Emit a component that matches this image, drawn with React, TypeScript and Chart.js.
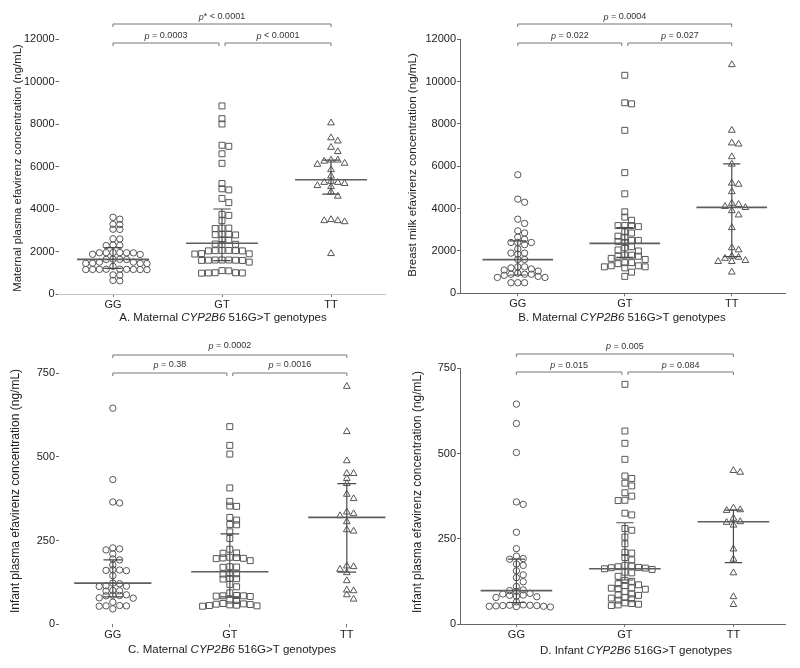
import React, { useEffect, useRef } from 'react';
import { Chart, registerables } from 'chart.js';
Chart.register(...registerables);

const FONT = '"Liberation Sans", Arial, Helvetica, sans-serif';
const GENOTYPES = ['GG', 'GT', 'TT'];
const POINT_STYLES = ['circle', 'rect', 'triangle'];
const POINT_RADII = [3.2, 4.2, 3.9];

// ---------- Panel A: maternal plasma ----------
const A_GG = [3610, 3520, 3280, 3270, 3050, 3040, 2600, 2590, 2300, 2290, 2280, 1950, 1950, 1945, 1940, 1940, 1935, 1870, 1860, 1640, 1630, 1625, 1620, 1500, 1500, 1450, 1440, 1440, 1430, 1300, 1170, 1165, 1160, 1160, 1155, 1155, 1150, 1150, 1145, 900, 890, 640, 620];
const A_GT = [8850, 8250, 8000, 7000, 6950, 6600, 6150, 5200, 4950, 4900, 4500, 4300, 3750, 3700, 3450, 3100, 3100, 3080, 2800, 2800, 2790, 2780, 2550, 2540, 2350, 2340, 2330, 2050, 2050, 2040, 2040, 2030, 2030, 1900, 1890, 1880, 1600, 1600, 1600, 1590, 1590, 1580, 1580, 1500, 1100, 1090, 1000, 1000, 990, 990, 980];
const A_TT = [8050, 7350, 7200, 6900, 6700, 6300, 6300, 6250, 6150, 6100, 5850, 5550, 5300, 5250, 5250, 5200, 5100, 5050, 4800, 4600, 3500, 3450, 3450, 3400, 1900];
const A_MEDIAN = [1630, 2385, 5380];
const A_Q1 = [1210, 1570, 4700];
const A_Q3 = [2180, 4000, 6300];
const A_P = ['p = 0.0003', 'p < 0.0001', 'p* < 0.0001'];
const A_YTICKS = [0, 2000, 4000, 6000, 8000, 10000, 12000];
const A_YTITLE = 'Maternal plasma efavirenz concentration (ng/mL)';
const A_XTITLE = ['A. Maternal ', 'CYP2B6', ' 516G>T genotypes'];

// ---------- Panel B: breast milk ----------
const B_GG = [5600, 4450, 4300, 3500, 3300, 2950, 2850, 2650, 2550, 2400, 2400, 2400, 2300, 2100, 1900, 1900, 1850, 1600, 1600, 1250, 1250, 1200, 1150, 1100, 1050, 950, 900, 900, 900, 850, 800, 750, 750, 500, 500, 500];
const B_GT = [10300, 9000, 8950, 7700, 5700, 4700, 3850, 3600, 3450, 3200, 3200, 3150, 3200, 2900, 2850, 2700, 2650, 2500, 2500, 2450, 2400, 2200, 2150, 2050, 2000, 1800, 1800, 1750, 1750, 1650, 1600, 1450, 1450, 1400, 1300, 1300, 1250, 1250, 1200, 1000, 800];
const B_TT = [10800, 7700, 7100, 7050, 6450, 6100, 5200, 5150, 4800, 4250, 4200, 4100, 4050, 3900, 3700, 3100, 2150, 2050, 1750, 1700, 1650, 1550, 1500, 1500, 1000];
const B_MEDIAN = [1590, 2360, 4060];
const B_Q1 = [865, 1700, 1730];
const B_Q3 = [2480, 3100, 6110];
const B_P = ['p = 0.022', 'p = 0.027', 'p = 0.0004'];
const B_YTICKS = [0, 2000, 4000, 6000, 8000, 10000, 12000];
const B_YTITLE = 'Breast milk efavirenz concentration (ng/mL)';
const B_XTITLE = ['B. Maternal ', 'CYP2B6', ' 516G>T genotypes'];

// ---------- Panel C: infant plasma by maternal genotype ----------
const C_GG = [645, 432, 365, 362, 228, 225, 222, 210, 195, 192, 177, 163, 162, 161, 160, 145, 123, 121, 115, 114, 113, 101, 100, 99, 88, 87, 86, 85, 79, 78, 66, 56, 55, 55, 54, 46];
const C_GT = [590, 534, 508, 407, 367, 353, 352, 319, 311, 298, 297, 276, 256, 224, 213, 212, 200, 199, 198, 197, 196, 190, 172, 171, 170, 152, 151, 150, 137, 136, 135, 119, 112, 94, 86, 85, 85, 84, 83, 72, 71, 62, 61, 60, 59, 58, 57, 56, 55, 54];
const C_TT = [710, 575, 488, 450, 450, 435, 420, 388, 375, 335, 330, 324, 306, 282, 278, 174, 172, 164, 154, 130, 102, 100, 88, 75];
const C_MEDIAN = [123, 157, 319];
const C_Q1 = [82, 82, 156];
const C_Q3 = [192, 270, 420];
const C_P = ['p = 0.38', 'p = 0.0016', 'p = 0.0002'];
const C_YTICKS = [0, 250, 500, 750];
const C_YTITLE = 'Infant plasma efavirenz concentration (ng/mL)';
const C_XTITLE = ['C. Maternal ', 'CYP2B6', ' 516G>T genotypes'];

// ---------- Panel D: infant plasma by infant genotype ----------
const D_GG = [645, 588, 503, 358, 351, 269, 221, 199, 192, 190, 176, 172, 156, 144, 136, 124, 110, 100, 98, 96, 90, 88, 85, 84, 82, 80, 78, 65, 56, 55, 55, 54, 54, 53, 52, 52, 51, 50];
const D_GT = [703, 566, 530, 483, 434, 427, 413, 405, 385, 375, 363, 362, 325, 320, 280, 275, 255, 235, 210, 208, 195, 188, 172, 170, 168, 166, 165, 164, 162, 160, 152, 150, 140, 128, 125, 118, 115, 113, 106, 105, 104, 102, 95, 88, 85, 84, 78, 76, 74, 70, 62, 60, 58, 56, 54];
const D_TT = [450, 445, 340, 335, 333, 310, 300, 298, 290, 220, 190, 150, 80, 57];
const D_MEDIAN = [98, 162, 300];
const D_Q1 = [63, 129, 180];
const D_Q3 = [190, 297, 334];
const D_P = ['p = 0.015', 'p = 0.084', 'p = 0.005'];
const D_YTICKS = [0, 250, 500, 750];
const D_YTITLE = 'Infant plasma efavirenz concentration (ng/mL)';
const D_XTITLE = ['D. Infant ', 'CYP2B6', ' 516G>T genotypes'];

type Panel = {
  id: string;
  left: number; top: number; w: number; h: number;
  area: { l: number; r: number; t: number; b: number };
  xmin: number; xmax: number; ymax: number;
  groups: number[][]; median: number[]; q1: number[]; q3: number[];
  pvals: string[]; yticks: number[]; ytitle: string; xtitle: string[];
  yBorder: boolean; xBorder: boolean; xBorderColor: string;
  yTitlePos: [number, number]; yTitleSize: number; xTitlePos: [number, number];
  br: { top: number; low: number; topText: number; lowText: number };
};

const PANELS: Panel[] = [
  {
    id: 'A', left: 0, top: 0, w: 400, h: 330,
    area: { l: 58.5, r: 385.5, t: 39, b: 294 }, xmin: -0.5, xmax: 2.5, ymax: 12000,
    groups: [A_GG, A_GT, A_TT], median: A_MEDIAN, q1: A_Q1, q3: A_Q3,
    pvals: A_P, yticks: A_YTICKS, ytitle: A_YTITLE, xtitle: A_XTITLE,
    yBorder: false, xBorder: true, xBorderColor: '#c4c4c4',
    yTitlePos: [18, 168], yTitleSize: 11.4, xTitlePos: [223, 318],
    br: { top: 24, low: 43, topText: 17, lowText: 36 },
  },
  {
    id: 'B', left: 400, top: 0, w: 400, h: 330,
    area: { l: 60, r: 385.3, t: 39.3, b: 293.3 }, xmin: -0.54, xmax: 2.5, ymax: 12000,
    groups: [B_GG, B_GT, B_TT], median: B_MEDIAN, q1: B_Q1, q3: B_Q3,
    pvals: B_P, yticks: B_YTICKS, ytitle: B_YTITLE, xtitle: B_XTITLE,
    yBorder: true, xBorder: true, xBorderColor: '#666',
    yTitlePos: [13, 165], yTitleSize: 11.6, xTitlePos: [222, 318],
    br: { top: 24, low: 43, topText: 17, lowText: 36 },
  },
  {
    id: 'C', left: 0, top: 330, w: 400, h: 338,
    area: { l: 59, r: 393.6, t: 43, b: 294.3 }, xmin: -0.46, xmax: 2.4, ymax: 750,
    groups: [C_GG, C_GT, C_TT], median: C_MEDIAN, q1: C_Q1, q3: C_Q3,
    pvals: C_P, yticks: C_YTICKS, ytitle: C_YTITLE, xtitle: C_XTITLE,
    yBorder: false, xBorder: false, xBorderColor: '#888',
    yTitlePos: [16, 161], yTitleSize: 12, xTitlePos: [232, 320],
    br: { top: 25, low: 43, topText: 16, lowText: 35 },
  },
  {
    id: 'D', left: 400, top: 330, w: 400, h: 338,
    area: { l: 60, r: 385.5, t: 38.3, b: 294 }, xmin: -0.52, xmax: 2.48, ymax: 750,
    groups: [D_GG, D_GT, D_TT], median: D_MEDIAN, q1: D_Q1, q3: D_Q3,
    pvals: D_P, yticks: D_YTICKS, ytitle: D_YTITLE, xtitle: D_XTITLE,
    yBorder: true, xBorder: true, xBorderColor: '#666',
    yTitlePos: [18, 162], yTitleSize: 11.9, xTitlePos: [236, 321],
    br: { top: 24, low: 42, topText: 16.5, lowText: 35.5 },
  },
];

const X_AXIS_H = 20;
const SWARM_DX = 6.8;
const SWARM_DY = 4.6;

function drawMixed(ctx: CanvasRenderingContext2D, parts: [string, boolean][], cx: number, cy: number, size: number, color: string) {
  const fonts = parts.map(([, it]) => `${it ? 'italic ' : ''}${size}px ${FONT}`);
  const widths = parts.map(([t], k) => { ctx.font = fonts[k]; return ctx.measureText(t).width; });
  const total = widths.reduce((a, b) => a + b, 0);
  let x = cx - total / 2;
  ctx.fillStyle = color;
  ctx.textAlign = 'left';
  ctx.textBaseline = 'middle';
  parts.forEach(([t], k) => { ctx.font = fonts[k]; ctx.fillText(t, x, cy); x += widths[k]; });
}

function pParts(s: string): [string, boolean][] {
  return s.startsWith('p') ? [['p', true], [s.slice(1), false]] : [[s, false]];
}

function makeOverlay(p: Panel) {
  return {
    id: 'overlay' + p.id,
    afterDatasetsDraw(chart: any) {
      const { ctx } = chart;
      const xs = chart.scales.x, ys = chart.scales.y;
      ctx.save();
      for (let i = 0; i < 3; i++) {
        const cx = xs.getPixelForValue(i);
        const mw = xs.getPixelForValue(i + 0.33) - cx;
        const cw = xs.getPixelForValue(i + 0.08) - cx;
        const ym = ys.getPixelForValue(p.median[i]);
        const y1 = ys.getPixelForValue(p.q1[i]);
        const y3 = ys.getPixelForValue(p.q3[i]);
        ctx.strokeStyle = '#5e5e5e';
        ctx.lineWidth = 1.6;
        ctx.beginPath(); ctx.moveTo(cx - mw, ym); ctx.lineTo(cx + mw, ym); ctx.stroke();
        ctx.lineWidth = 1.2;
        ctx.strokeStyle = '#4a4a4a';
        ctx.beginPath();
        ctx.moveTo(cx, y1); ctx.lineTo(cx, y3);
        ctx.moveTo(cx - cw, y1); ctx.lineTo(cx + cw, y1);
        ctx.moveTo(cx - cw, y3); ctx.lineTo(cx + cw, y3);
        ctx.stroke();
      }
      ctx.restore();
    },
    afterDraw(chart: any) {
      const { ctx } = chart;
      const xs = chart.scales.x;
      const x0 = xs.getPixelForValue(0), x1 = xs.getPixelForValue(1), x2 = xs.getPixelForValue(2);
      ctx.save();
      const bracket = (xa: number, xb: number, y: number, label: string, ty: number) => {
        ctx.strokeStyle = '#777';
        ctx.lineWidth = 1;
        ctx.beginPath();
        ctx.moveTo(xa, y + 3); ctx.lineTo(xa, y); ctx.lineTo(xb, y); ctx.lineTo(xb, y + 3);
        ctx.stroke();
        drawMixed(ctx, pParts(label), (xa + xb) / 2, ty, 9, '#333');
      };
      bracket(x0, x1 - 3, p.br.low, p.pvals[0], p.br.lowText);
      bracket(x1 + 3, x2, p.br.low, p.pvals[1], p.br.lowText);
      bracket(x0, x2, p.br.top, p.pvals[2], p.br.topText);
      // y title
      ctx.save();
      ctx.translate(p.yTitlePos[0], p.yTitlePos[1]);
      ctx.rotate(-Math.PI / 2);
      ctx.font = `${p.yTitleSize}px ${FONT}`;
      ctx.fillStyle = '#222';
      ctx.textAlign = 'center';
      ctx.textBaseline = 'middle';
      ctx.fillText(p.ytitle, 0, 0);
      ctx.restore();
      // x title
      drawMixed(ctx, [[p.xtitle[0], false], [p.xtitle[1], true], [p.xtitle[2], false]], p.xTitlePos[0], p.xTitlePos[1], 11.5, '#222');
      ctx.restore();
    },
  };
}

function swarm(values: number[], center: number, xs: any, ys: any) {
  const placed: { px: number; py: number }[] = [];
  const order = values.map((_, i) => i).sort((a, b) => values[b] - values[a]);
  const out: { x: number; y: number }[] = new Array(values.length);
  const cpx = xs.getPixelForValue(center);
  for (const i of order) {
    const py = ys.getPixelForValue(values[i]);
    let px = cpx;
    for (let step = 0; step < 80; step++) {
      const off = step === 0 ? 0 : (step % 2 ? 1 : -1) * Math.ceil(step / 2) * SWARM_DX;
      px = cpx + off;
      if (placed.every(q => Math.abs(q.px - px) >= SWARM_DX - 0.05 || Math.abs(q.py - py) >= SWARM_DY)) break;
    }
    placed.push({ px, py });
    out[i] = { x: xs.getValueForPixel(px), y: values[i] };
  }
  return out;
}

function PanelChart({ p }: { p: Panel }) {
  const ref = useRef<HTMLCanvasElement>(null);
  useEffect(() => {
    const canvas = ref.current!;
    const chart = new Chart(canvas, {
      type: 'scatter',
      data: {
        datasets: p.groups.map((vals, i) => ({
          label: GENOTYPES[i],
          data: vals.map(v => ({ x: i, y: v })),
          pointStyle: POINT_STYLES[i] as any,
          pointRadius: POINT_RADII[i],
          pointHoverRadius: POINT_RADII[i],
          borderColor: '#555',
          backgroundColor: 'rgba(0,0,0,0)',
          borderWidth: 1,
          pointBorderWidth: 1,
        })),
      },
      options: {
        responsive: false,
        animation: false,
        devicePixelRatio: 1,
        events: [],
        layout: {
          padding: { left: 0, top: p.area.t, right: p.w - p.area.r, bottom: p.h - p.area.b - X_AXIS_H },
        },
        plugins: { legend: { display: false }, tooltip: { enabled: false }, title: { display: false } },
        scales: {
          x: {
            type: 'linear', min: p.xmin, max: p.xmax,
            afterBuildTicks: (s: any) => { s.ticks = GENOTYPES.map((_, i) => ({ value: i })); },
            afterFit: (s: any) => { s.height = X_AXIS_H; },
            ticks: {
              callback: (v: any) => GENOTYPES[v] ?? '',
              font: { size: 11, family: FONT }, color: '#222', padding: 1, maxRotation: 0, autoSkip: false,
            },
            grid: { display: true, drawOnChartArea: false, drawTicks: true, tickLength: 3, color: '#777' },
            border: { display: p.xBorder, color: p.xBorderColor, width: 1 },
          },
          y: {
            type: 'linear', min: 0, max: p.ymax,
            afterBuildTicks: (s: any) => { s.ticks = p.yticks.map(v => ({ value: v })); },
            afterFit: (s: any) => { s.width = p.area.l; },
            ticks: { callback: (v: any) => String(v), font: { size: 11, family: FONT }, color: '#222', padding: 1 },
            grid: { display: true, drawOnChartArea: false, drawTicks: true, tickLength: 3, color: '#666' },
            border: { display: p.yBorder, color: '#666', width: 1 },
          },
        },
      },
      plugins: [makeOverlay(p)],
    } as any);
    const xs = chart.scales.x, ys = chart.scales.y;
    chart.data.datasets.forEach((ds: any, i: number) => {
      ds.data = swarm(p.groups[i], i, xs, ys);
    });
    chart.update();
    return () => chart.destroy();
  }, []);
  return (
    <canvas
      ref={ref}
      width={p.w}
      height={p.h}
      style={{ position: 'absolute', left: p.left, top: p.top, width: p.w, height: p.h }}
    />
  );
}

export default function App() {
  return (
    <div style={{ position: 'absolute', left: 0, top: 0, width: 800, height: 668, background: '#fff', overflow: 'hidden' }}>
      {PANELS.map(p => <PanelChart key={p.id} p={p} />)}
    </div>
  );
}
